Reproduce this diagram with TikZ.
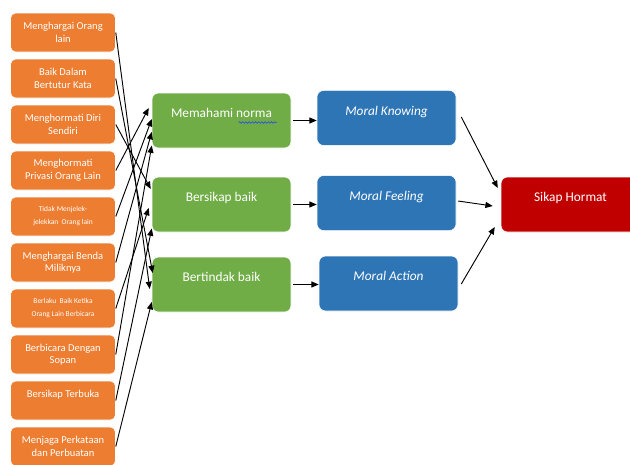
\documentclass[tikz,border=0pt]{standalone}
\usepackage{fontspec}
\setmainfont{Carlito}
\usetikzlibrary{positioning,calc,arrows.meta,decorations.pathmorphing}

\definecolor{oranye}{HTML}{ED7D31}
\definecolor{hijau}{HTML}{70AD47}
\definecolor{biru}{HTML}{2E75B6}
\definecolor{merah}{HTML}{C00000}
\definecolor{spellblue}{HTML}{3050E0}

\tikzstyle{nilaiNode} = [rectangle, rounded corners=4pt, minimum width=78.75pt, minimum height=29.25pt, text centered, align=center, draw=white, fill=oranye, text=white, font=\fontsize{7.9}{9.4}\selectfont]
\tikzstyle{nilaiKecil} = [nilaiNode, font=\fontsize{5.6}{9.75}\selectfont]
\tikzstyle{sikapNode} = [rectangle, rounded corners=5pt, minimum width=104.25pt, minimum height=41.25pt, text centered, text depth=11pt, draw=white, fill=hijau, text=white, font=\fontsize{10}{12}\selectfont]
\tikzstyle{moralNode} = [sikapNode, fill=biru, font=\fontsize{10}{12}\selectfont\itshape]
\tikzstyle{hasilNode} = [sikapNode, fill=merah]
\tikzstyle{arrow} = [line width=0.7pt,-{Triangle[length=5.5pt,width=4.5pt]}]
\tikzstyle{spellLine} = [spellblue, line width=0.5pt, decorate, decoration={snake, segment length=2.4pt, amplitude=0.6pt}]

\begin{document}
\begin{tikzpicture}[x=0.75pt,y=-0.75pt,node distance=34.5pt]
    \useasboundingbox (0,0) rectangle (630,464);
    \node (n1)[nilaiNode] at (63,32.5) {Menghargai Orang\\lain};
    \node (n2)[nilaiNode, below of=n1] {Baik Dalam\\Bertutur Kata};
    \node (n3)[nilaiNode, below of=n2] {Menghormati Diri\\Sendiri};
    \node (n4)[nilaiNode, below of=n3] {Menghormati\\Privasi Orang Lain};
    \node (n5)[nilaiKecil, below of=n4] {Tidak Menjelek-\\jelekkan~ Orang lain};
    \node (n6)[nilaiNode, below of=n5] {Menghargai Benda\\Miliknya};
    \node (n7)[nilaiKecil, below of=n6] {Berlaku~ Baik Ketika\\Orang Lain Berbicara};
    \node (n8)[nilaiNode, below of=n7] {Berbicara Dengan\\Sopan};
    \node (n9)[nilaiNode, below of=n8, text depth=10pt] {Bersikap Terbuka};
    \node (n10)[nilaiNode, below of=n9] {Menjaga Perkataan\\dan Perbuatan};

    \node (norma)[sikapNode] at (221.5,120.5) {Memahami norma};
    \node (baik)[sikapNode, below of=norma, node distance=63pt] {Bersikap baik};
    \node (tindak)[sikapNode, below of=baik, node distance=60pt] {Bertindak baik};

    \node (know)[moralNode, right of=norma, node distance=123.75pt, yshift=1.9pt] {Moral Knowing};
    \node (feel)[moralNode, right of=baik, node distance=123.75pt, yshift=1.1pt] {Moral Feeling};
    \node (action)[moralNode, right of=tindak, node distance=125.25pt, yshift=0.75pt] {Moral Action};

    \node (hormat)[hasilNode, right of=feel, node distance=138pt, yshift=-1.1pt] {Sikap Hormat};

    % garis ejaan di bawah "norma"
    \draw [spellLine] ($(norma.center)+(17,2)$) -- ($(norma.center)+(55,2)$);

    \draw [arrow] (n1.east) -- ($(tindak.west)+(-2,4.5)$);
    \draw [arrow] (n2.east) -- ($(tindak.west)+(1,-11.5)$);
    \draw [arrow] (n3.east) -- ($(baik.west)+(-1,-15.5)$);
    \draw [arrow] (n4.east) -- ($(norma.west)+(-3,-12.5)$);
    \draw [arrow] (n5.east) -- ($(norma.west)+(0,-1.5)$);
    \draw [arrow] (n6.east) -- ($(norma.west)+(0,11.5)$);
    \draw [arrow] (n7.east) -- ($(baik.west)+(-3,3.5)$);
    \draw [arrow] (n8.east) -- ($(norma.west)+(0,25)$);
    \draw [arrow] (n9.east) -- ($(baik.west)+(0,24)$);
    \draw [arrow] (n10.east) -- ($(tindak.west)+(0,17.5)$);

    \draw [arrow] ([xshift=1.5pt]norma.east) -- (norma.east -| know.west);
    \draw [arrow] ([xshift=1.5pt]baik.east) -- (baik.east -| feel.west);
    \draw [arrow] ([xshift=1.5pt]tindak.east) -- (tindak.east -| action.west);

    \draw [arrow] ($(know.east)+(5,-1)$) -- ($(hormat.west)+(-3,-16.5)$);
    \draw [arrow] ($(feel.east)+(2,-2)$) -- ($(hormat.west)+(-8,1.5)$);
    \draw [arrow] ($(action.east)+(3,0.5)$) -- ($(hormat.west)+(-6,22.5)$);
  \end{tikzpicture}
\end{document}
